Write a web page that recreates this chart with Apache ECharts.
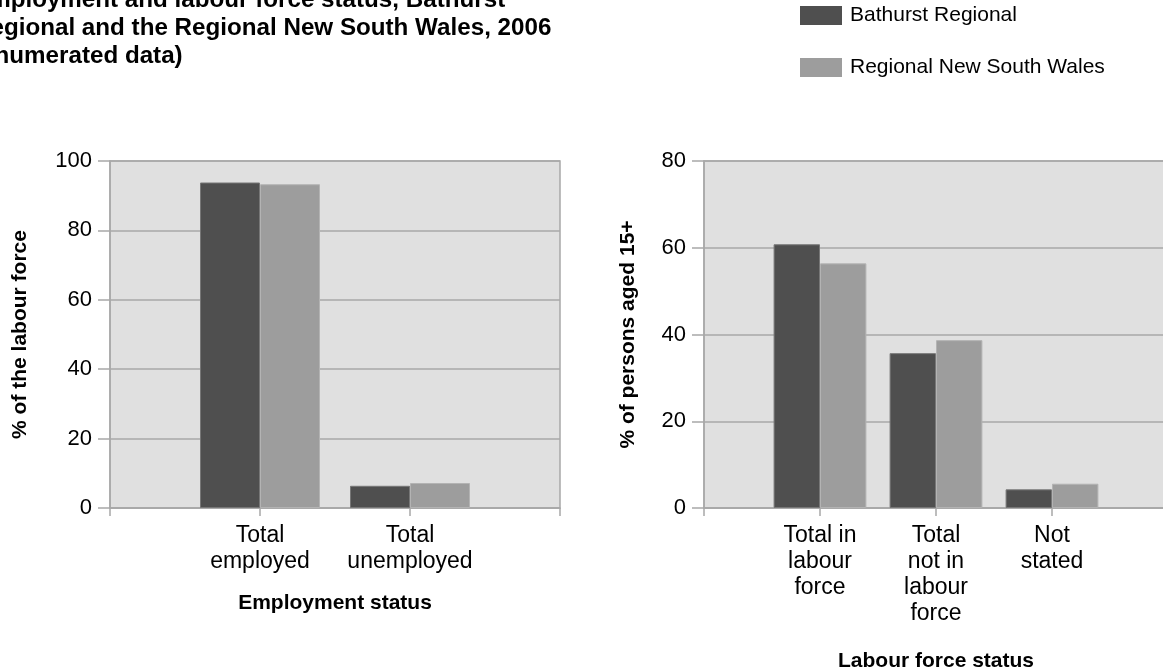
<!DOCTYPE html>
<html>
<head>
<meta charset="utf-8">
<script src="https://cdn.jsdelivr.net/npm/echarts@6/dist/echarts.min.js"></script>
<style>
  html, body { margin: 0; padding: 0; background: #fff; }
  #chart { width: 1163px; height: 671px; }
</style>
</head>
<body>
<div id="chart"></div>
<script>
// Series shown in both panels
const seriesNames = ['Bathurst Regional', 'Regional New South Wales'];

// Left panel: employment status (% of the labour force)
const employmentCategories = ['Total\nemployed', 'Total\nunemployed'];
const employmentBathurst = [93.8, 6.4];
const employmentRegionalNSW = [93.3, 7.2];
const employmentTicks = [0, 20, 40, 60, 80, 100];

// Right panel: labour force status (% of persons aged 15+)
const labourCategories = ['Total in\nlabour\nforce', 'Total\nnot in\nlabour\nforce', 'Not\nstated'];
const labourBathurst = [60.8, 35.7, 4.3];
const labourRegionalNSW = [56.4, 38.7, 5.6];
const labourTicks = [0, 20, 40, 60, 80];

const FONT = '"Liberation Sans", Arial, Helvetica, sans-serif';
const LINE = '#a8a8a8';
const DARK = '#4f4f4f';
const LIGHT = '#9d9d9d';

// Categories sit between empty end slots so the axis has ticks at both plot edges
const padCats = c => ['', ...c, ''];
const padVals = v => [null, ...v, null];

function xAxisFor(gridIndex, cats, name, nameGap) {
  return {
    type: 'category',
    gridIndex,
    data: padCats(cats),
    boundaryGap: false,
    axisLine: { show: true, lineStyle: { color: LINE, width: 1.5 } },
    axisTick: { show: true, interval: 0, length: 8, lineStyle: { color: LINE, width: 1.5 } },
    axisLabel: { interval: 0, margin: 15, fontSize: 23, lineHeight: 26, color: '#000', fontFamily: FONT },
    splitLine: { show: false },
    name,
    nameLocation: 'middle',
    nameGap,
    nameTextStyle: { fontSize: 21, fontWeight: 'bold', color: '#000', fontFamily: FONT }
  };
}

function yAxisFor(gridIndex, ticks, name, nameGap) {
  return {
    type: 'value',
    gridIndex,
    min: ticks[0],
    max: ticks[ticks.length - 1],
    interval: ticks[1] - ticks[0],
    axisLine: { show: true, lineStyle: { color: LINE, width: 1.5 } },
    axisTick: { show: true, length: 12, lineStyle: { color: LINE, width: 1.5 } },
    axisLabel: { margin: 18, fontSize: 22, color: '#000', fontFamily: FONT },
    splitLine: { show: true, lineStyle: { color: LINE, width: 1.5 } },
    name,
    nameLocation: 'middle',
    nameGap,
    nameRotate: 90,
    nameTextStyle: { fontSize: 21, fontWeight: 'bold', color: '#000', fontFamily: FONT }
  };
}

function barSeries(name, idx, values, color, border) {
  return {
    type: 'bar',
    name,
    xAxisIndex: idx,
    yAxisIndex: idx,
    data: padVals(values),
    barWidth: '40%',
    barGap: '0%',
    itemStyle: { color, borderColor: border, borderWidth: 1 }
  };
}

const gridBase = {
  top: 161,
  height: 347,
  show: true,
  backgroundColor: '#e0e0e0',
  borderColor: LINE,
  borderWidth: 1.5,
  containLabel: false,
  outerBoundsMode: 'none'
};

const chart = echarts.init(document.getElementById('chart'), null, { renderer: 'canvas' });

chart.setOption({
  animation: false,
  backgroundColor: '#fff',
  title: {
    text: 'Employment and labour force status, Bathurst\nRegional and the Regional New South Wales, 2006\n(enumerated data)',
    left: -32,
    top: -19,
    textStyle: { fontSize: 24.2, fontWeight: 'bold', lineHeight: 28, color: '#000', fontFamily: FONT }
  },
  legend: {
    orient: 'vertical',
    left: 795,
    top: 0,
    itemWidth: 42,
    itemHeight: 19,
    itemGap: 31,
    icon: 'rect',
    itemStyle: { borderWidth: 0 },
    textStyle: { fontSize: 21, color: '#000', fontFamily: FONT, padding: [0, 0, 0, 3] },
    data: seriesNames
  },
  grid: [
    Object.assign({ left: 110, width: 450 }, gridBase),
    Object.assign({ left: 704, width: 464 }, gridBase)
  ],
  xAxis: [
    xAxisFor(0, employmentCategories, 'Employment status', 85),
    xAxisFor(1, labourCategories, 'Labour force status', 143)
  ],
  yAxis: [
    yAxisFor(0, employmentTicks, '% of the labour force', 79),
    yAxisFor(1, labourTicks, '% of persons aged 15+', 65)
  ],
  series: [
    barSeries(seriesNames[0], 0, employmentBathurst, DARK, '#777'),
    barSeries(seriesNames[1], 0, employmentRegionalNSW, LIGHT, '#b3b3b3'),
    barSeries(seriesNames[0], 1, labourBathurst, DARK, '#777'),
    barSeries(seriesNames[1], 1, labourRegionalNSW, LIGHT, '#b3b3b3')
  ]
});
</script>
</body>
</html>
